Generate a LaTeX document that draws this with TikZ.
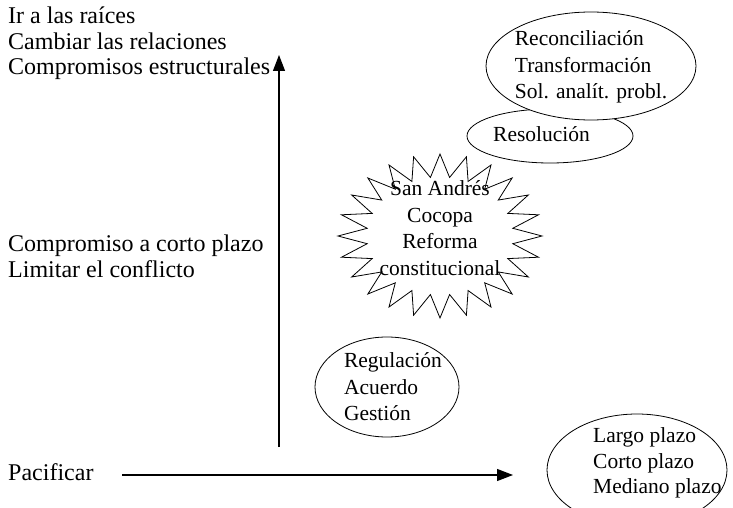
\documentclass[tikz,border=0pt]{standalone}
\usepackage{fontspec}
\setmainfont{Liberation Serif}
\usetikzlibrary{arrows.meta,shapes.geometric,calc}
\begin{document}
\begin{tikzpicture}[x=1pt,y=-1pt,
  lefttxt/.style={font=\fontsize{24}{25.5}\selectfont, anchor=base west, inner sep=0},
  oval/.style={draw, ellipse, line width=0.8pt, inner sep=0},
  intxt/.style={font=\fontsize{21.5}{26.6}\selectfont, inner sep=0, align=left},
  axisarrow/.style={line width=1.2pt, -{Triangle[length=16pt,width=12pt]}},
  starline/.style={draw, line width=0.8pt, line join=miter}]
\useasboundingbox (0,0) rectangle (733,508);
\clip (0,0) rectangle (733,508);

% left labels
\node[lefttxt] (l1) at (8,24) {Ir a las raíces};
\node[lefttxt] (l2) at (8,49.5) {Cambiar las relaciones};
\node[lefttxt] (l3) at (8,75) {Compromisos estructurales};
\node[lefttxt] (l4) at (8,251) {Compromiso a corto plazo};
\node[lefttxt] (l5) at (8,277) {Limitar el conflicto};
\node[lefttxt] (l6) at (8,480) {Pacificar};

% axes
\coordinate (vb) at (279,447);
\coordinate (vt) at (279,55);
\draw[axisarrow] (vb) -- (vt);
\coordinate (hl) at (122,475);
\coordinate (hr) at (513,475);
\draw[axisarrow] (hl) -- (hr);

% Resolución (under the top ellipse)
\node[oval, minimum width=166, minimum height=54] (res) at (550,136) {};
\node[intxt, anchor=west] (restx) at (493,134) {Resolución};

% top ellipse
\node[oval, fill=white, minimum width=210, minimum height=108] (rec) at (591,66) {};
\node[intxt] (rectx) at (591,67) {Reconciliación\\Transformación\\Sol. analít. probl.};

% star
\coordinate (sc) at (440,236);
\draw[starline] ($(sc)+(0,-82)$)
  \foreach \i [evaluate=\i as \r using {mod(\i,2)==0 ? 1 : 0.72}, evaluate=\i as \a using {90+7.5*\i}] in {1,...,47} {
    -- ($(sc)+({102*\r*cos(\a)},{-82*\r*sin(\a)})$)
  } -- cycle;
\node[intxt, align=center] (startx) at (440,228) {San Andrés\\Cocopa\\Reforma\\constitucional};

% Regulación
\node[oval, minimum width=144, minimum height=100] (reg) at (387,387) {};
\node[intxt] (regtx) at (393,387) {Regulación\\Acuerdo\\Gestión};

% plazos
\node[oval, minimum width=180, minimum height=112] (plazo) at (637,470) {};
\node[intxt, anchor=west, font=\fontsize{21.5}{25.2}\selectfont] (plazotx) at (593,463) {Largo plazo\\Corto plazo\\Mediano plazo};
\end{tikzpicture}
\end{document}
